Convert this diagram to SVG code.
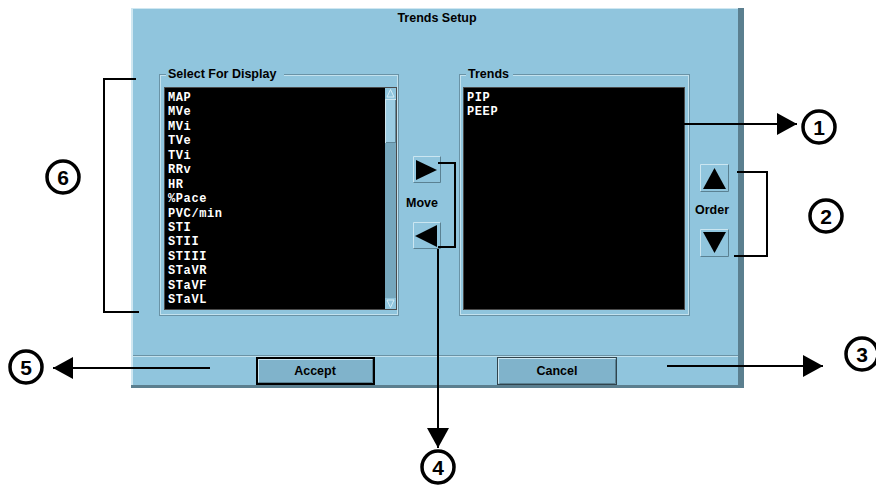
<svg xmlns="http://www.w3.org/2000/svg" width="876" height="485" viewBox="0 0 876 485">
  <style>
    .ui { font-family: "Liberation Sans", Arial, sans-serif; font-weight: bold; font-size: 12.5px; fill: #000; }
    .list { font-family: "Liberation Mono", "Courier New", monospace; font-weight: bold; font-size: 12px; letter-spacing: 0.6px; fill: #fff; }
    .num { font-family: "Liberation Sans", Arial, sans-serif; font-weight: bold; font-size: 21px; fill: #000; text-anchor: middle; }
    .ring { fill: #fff; stroke: #000; stroke-width: 3.5; }
    .hi { fill: none; stroke: #cbe6f1; stroke-width: 1; }
    .lo { fill: none; stroke: #5a8192; stroke-width: 1; }
    .etch-d { fill: none; stroke: #6a93a6; stroke-width: 1; }
    .etch-l { fill: none; stroke: #c3e2ee; stroke-width: 1; }
    .wire { fill: none; stroke: #000; stroke-width: 2; }
  </style>
  <defs>
    <marker id="head" viewBox="0 0 20 22" refX="20" refY="11" markerWidth="20" markerHeight="22" markerUnits="userSpaceOnUse" orient="auto">
      <path d="M0,0 L20,11 L0,22 Z" fill="#000"/>
    </marker>
  </defs>

  <rect width="876" height="485" fill="#fff"/>

  <!-- dialog window -->
  <g id="dialog">
    <rect x="131" y="8" width="613" height="380" fill="#90c5dd"/>
    <rect x="131" y="8" width="2" height="380" fill="#cfe7f1"/>
    <rect x="131" y="8" width="613" height="1" fill="#cfe7f1"/>
    <rect x="738" y="8" width="6" height="380" fill="#5b7f8f"/>
    <rect x="131" y="385" width="613" height="3" fill="#5b7f8f"/>
    <text class="ui" x="437" y="22" text-anchor="middle">Trends Setup</text>
    <!-- separator above the command buttons -->
    <line x1="133" y1="355.5" x2="738" y2="355.5" stroke="#6b93a5"/>
    <line x1="133" y1="356.5" x2="738" y2="356.5" stroke="#c3e2ee"/>
  </g>

  <!-- available parameters -->
  <g id="select-for-display">
    <rect class="etch-d" x="159.5" y="74.5" width="239" height="241"/>
    <rect class="etch-l" x="160.5" y="75.5" width="237" height="239"/>
    <rect x="166" y="70" width="118" height="10" fill="#90c5dd"/>
    <text class="ui" x="168" y="78">Select For Display</text>
    <rect x="164" y="87" width="233" height="223" fill="#4a4a4a"/>
    <rect x="165" y="88" width="220" height="221" fill="#000"/>
    <!-- scrollbar -->
    <rect x="385" y="88" width="11" height="221" fill="#76a7bd"/>
    <rect x="385" y="88" width="11" height="11" fill="#90c5dd"/>
    <path d="M387,97 L390.5,89.5 L394,97 Z" fill="none" stroke="#d5ecf5" stroke-width="1"/>
    <rect x="385.5" y="99.5" width="10" height="43" fill="#9bcce2" stroke="#cfe8f2"/>
    <line x1="395.5" y1="100" x2="395.5" y2="143" stroke="#5f8799"/>
    <line x1="386" y1="142.5" x2="396" y2="142.5" stroke="#5f8799"/>
    <rect x="385" y="298" width="11" height="11" fill="#90c5dd"/>
    <path d="M387,300 L390.5,307.5 L394,300 Z" fill="none" stroke="#d5ecf5" stroke-width="1"/>
    <text class="list" x="168" y="100.7">MAP</text>
    <text class="list" x="168" y="115.2">MVe</text>
    <text class="list" x="168" y="129.6">MVi</text>
    <text class="list" x="168" y="144.1">TVe</text>
    <text class="list" x="168" y="158.6">TVi</text>
    <text class="list" x="168" y="173.0">RRv</text>
    <text class="list" x="168" y="187.5">HR</text>
    <text class="list" x="168" y="202.0">%Pace</text>
    <text class="list" x="168" y="216.5">PVC/min</text>
    <text class="list" x="168" y="230.9">STI</text>
    <text class="list" x="168" y="245.4">STII</text>
    <text class="list" x="168" y="259.9">STIII</text>
    <text class="list" x="168" y="274.3">STaVR</text>
    <text class="list" x="168" y="288.8">STaVF</text>
    <text class="list" x="168" y="303.3">STaVL</text>
  </g>

  <!-- selected trends -->
  <g id="trends">
    <rect class="etch-d" x="459.5" y="74.5" width="230" height="241"/>
    <rect class="etch-l" x="460.5" y="75.5" width="228" height="239"/>
    <rect x="466" y="70" width="47" height="10" fill="#90c5dd"/>
    <text class="ui" x="468" y="78">Trends</text>
    <rect x="463" y="87" width="222" height="223" fill="#4a4a4a"/>
    <rect x="464" y="88" width="220" height="221" fill="#000"/>
    <text class="list" x="467" y="100.7">PIP</text>
    <text class="list" x="467" y="115.2">PEEP</text>
  </g>

  <!-- move buttons -->
  <g id="move">
    <rect x="413" y="156" width="28" height="27" fill="#90c5dd"/>
    <path class="hi" d="M413.5,182.5 V156.5 H440.5"/>
    <path class="lo" d="M413.5,182.5 H440.5 V156.5"/>
    <path d="M416,160 L437,170 L416,180 Z" fill="#000"/>
    <text class="ui" x="422" y="207" text-anchor="middle">Move</text>
    <rect x="413" y="222" width="28" height="27" fill="#90c5dd"/>
    <path class="hi" d="M413.5,248.5 V222.5 H440.5"/>
    <path class="lo" d="M413.5,248.5 H440.5 V222.5"/>
    <path d="M437,225 L415,236 L437,247 Z" fill="#000"/>
  </g>

  <!-- order buttons -->
  <g id="order">
    <rect x="700" y="164" width="29" height="28" fill="#90c5dd"/>
    <path class="hi" d="M700.5,191.5 V164.5 H728.5"/>
    <path class="lo" d="M700.5,191.5 H728.5 V164.5"/>
    <path d="M703,189 L714.5,168 L726,189 Z" fill="#000"/>
    <text class="ui" x="712" y="214" text-anchor="middle">Order</text>
    <rect x="700" y="229" width="29" height="28" fill="#90c5dd"/>
    <path class="hi" d="M700.5,256.5 V229.5 H728.5"/>
    <path class="lo" d="M700.5,256.5 H728.5 V229.5"/>
    <path d="M703,232 L714.5,253 L726,232 Z" fill="#000"/>
  </g>

  <!-- command buttons -->
  <g id="accept">
    <rect x="256" y="357" width="119" height="28" fill="#000"/>
    <rect x="258" y="359" width="115" height="24" fill="#80b3cb"/>
    <path class="hi" d="M258.5,382.5 V359.5 H372.5"/>
    <path class="lo" d="M258.5,382.5 H372.5 V359.5"/>
    <text class="ui" x="315" y="375" text-anchor="middle">Accept</text>
  </g>
  <g id="cancel">
    <rect x="497" y="357" width="120" height="28" fill="#30444d"/>
    <rect x="498" y="358" width="118" height="26" fill="#80b3cb"/>
    <path class="hi" d="M498.5,383.5 V358.5 H615.5"/>
    <path class="lo" d="M499.5,383.5 H615.5 V359.5"/>
    <text class="ui" x="557" y="375" text-anchor="middle">Cancel</text>
  </g>

  <!-- callouts -->
  <g id="callout-1"><circle class="ring" cx="819" cy="127" r="16"/><text class="num" x="819" y="134.5">1</text></g>
  <g id="callout-2"><circle class="ring" cx="826" cy="216" r="16"/><text class="num" x="826" y="223.5">2</text></g>
  <g id="callout-3"><circle class="ring" cx="862" cy="354" r="16"/><text class="num" x="862" y="361.5">3</text></g>
  <g id="callout-4"><circle class="ring" cx="438" cy="467" r="16"/><text class="num" x="438" y="474.5">4</text></g>
  <g id="callout-5"><circle class="ring" cx="26" cy="367" r="16"/><text class="num" x="26" y="374.5">5</text></g>
  <g id="callout-6"><circle class="ring" cx="63" cy="177" r="16"/><text class="num" x="63" y="184.5">6</text></g>

  <!-- leader lines -->
  <g id="connectors">
    <line class="wire" x1="683" y1="124" x2="797" y2="124" marker-end="url(#head)"/>
    <path class="wire" d="M737,172 H767 V256 H734"/>
    <line class="wire" x1="667" y1="366" x2="823" y2="366" marker-end="url(#head)"/>
    <path class="wire" d="M438,163 H455 V247 H438"/>
    <line class="wire" x1="438" y1="249" x2="438" y2="448" marker-end="url(#head)"/>
    <line class="wire" x1="210" y1="368" x2="53" y2="368" marker-end="url(#head)"/>
    <path class="wire" d="M136,79 H104 V312 H139"/>
  </g>
</svg>
